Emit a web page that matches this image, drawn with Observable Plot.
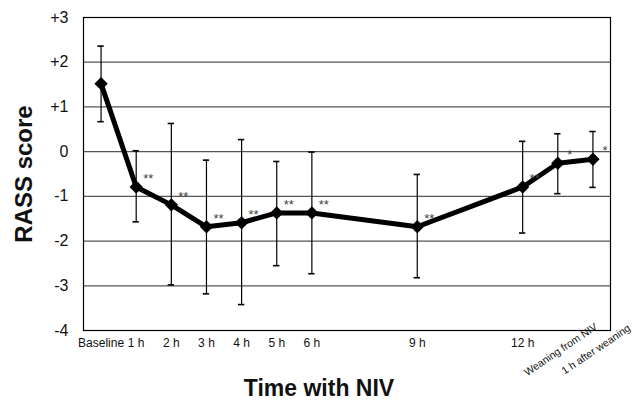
<!DOCTYPE html>
<html>
<head>
<meta charset="utf-8">
<script src="https://cdn.jsdelivr.net/npm/d3@7"></script>
<script src="https://cdn.jsdelivr.net/npm/@observablehq/plot@0.6"></script>
<style>
  html, body { margin: 0; padding: 0; background: #fff; }
  svg { font-family: "Liberation Sans", Arial, Helvetica, sans-serif; }
</style>
</head>
<body>
<div id="chart"></div>
<script>
// Time points (hours with NIV) and labels
const times = [0, 1, 2, 3, 4, 5, 6, 9, 12, 13, 14];
const labels = ["Baseline", "1 h", "2 h", "3 h", "4 h", "5 h", "6 h", "9 h", "12 h", "Weaning from NIV", "1 h after weaning"];
// RASS score means and error bar ends
const means = [1.52, -0.79, -1.19, -1.68, -1.59, -1.37, -1.37, -1.68, -0.79, -0.26, -0.17];
const lower = [0.67, -1.57, -2.98, -3.18, -3.42, -2.55, -2.73, -2.82, -1.82, -0.94, -0.80];
const upper = [2.36, 0.02, 0.63, -0.19, 0.27, -0.22, -0.01, -0.51, 0.23, 0.40, 0.45];
const signif = ["", "**", "**", "**", "**", "**", "**", "**", "**", "*", "*"];
const yTicks = [-4, -3, -2, -1, 0, 1, 2, 3];

const data = times.map((t, i) => ({t, label: labels[i], mean: means[i], lo: lower[i], hi: upper[i], sig: signif[i]}));
const straight = data.filter(d => d.t <= 12);
const rotated = data.filter(d => d.t > 12);
const capHalf = 0.09;

const chart = Plot.plot({
  width: 636,
  height: 400,
  marginLeft: 83,
  marginRight: 26,
  marginTop: 17,
  marginBottom: 70,
  style: {fontFamily: '"Liberation Sans", Arial, Helvetica, sans-serif', background: "#fff", overflow: "visible"},
  x: {domain: [-0.5, 14.5]},
  y: {domain: [-4, 3]},
  marks: [
    Plot.ruleY(yTicks, {stroke: "#555", strokeWidth: 1.2}),
    Plot.frame({stroke: "#000", strokeWidth: 1.2}),
    Plot.axisY({ticks: yTicks, tickFormat: d => d > 0 ? "+" + d : String(d), tickSize: 0, tickPadding: 15, fontSize: 16, label: null, color: "#111"}),
    Plot.axisX({ticks: straight.map(d => d.t), tickFormat: t => labels[times.indexOf(t)], tickSize: 0, tickPadding: 8, fontSize: 12, label: null, color: "#111"}),
    Plot.text(rotated, {x: "t", text: "label", frameAnchor: "bottom", dy: 19, dx: 3, rotate: -34, fontSize: 10.5, fill: "#111", textAnchor: "middle", lineAnchor: "middle"}),
    // error bars
    Plot.ruleX(data, {x: "t", y1: "lo", y2: "hi", stroke: "#000", strokeWidth: 1.2}),
    Plot.ruleY(data, {y: "lo", x1: d => d.t - capHalf, x2: d => d.t + capHalf, stroke: "#000", strokeWidth: 1.6}),
    Plot.ruleY(data, {y: "hi", x1: d => d.t - capHalf, x2: d => d.t + capHalf, stroke: "#000", strokeWidth: 1.6}),
    // mean line with diamonds
    Plot.line(data, {x: "t", y: "mean", stroke: "#000", strokeWidth: 5, strokeLinejoin: "round"}),
    Plot.dot(data, {x: "t", y: "mean", symbol: "diamond2", r: 6, fill: "#000", stroke: "none"}),
    // significance markers
    Plot.text(data, {x: "t", y: "mean", text: "sig", dx: 12, dy: -8, fontSize: 13, fill: "#444"}),
    // axis titles
    Plot.text(["RASS score"], {frameAnchor: "left", dx: -59, rotate: -90, fontSize: 24, fontWeight: "bold", fill: "#111", textAnchor: "middle", lineAnchor: "middle"}),
    Plot.text(["Time with NIV"], {frameAnchor: "bottom", dy: 58, dx: -28, fontSize: 23, fontWeight: "bold", fill: "#111", textAnchor: "middle", lineAnchor: "middle"})
  ]
});
document.getElementById("chart").appendChild(chart);
</script>
</body>
</html>
